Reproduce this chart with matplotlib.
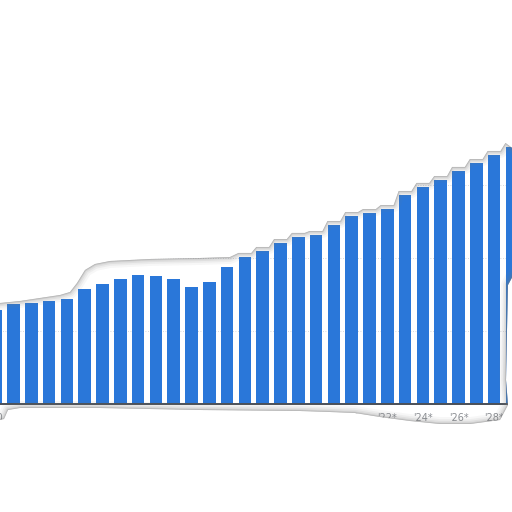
import numpy as np
import matplotlib
matplotlib.use("Agg")
import matplotlib.pyplot as plt
from matplotlib.path import Path
from matplotlib.patches import PathPatch, Polygon

# yearly values, 2000-2029 (later years are forecasts)
years = list(range(2000, 2030))
values = [1288, 1370, 1384, 1411, 1438, 1575, 1644, 1712, 1767, 1753,
          1712, 1603, 1671, 1877, 2014, 2096, 2205, 2288, 2315, 2452,
          2575, 2616, 2671, 2863, 2973, 3068, 3192, 3301, 3411, 3521]
forecast_from = 2022
grid_values = [1000, 2000, 3000, 4000]

BAR_COLOR = "#2a77d9"
BG_COLOR = "#f7fbfe"

# view window (the chart is a torn-out piece of a larger chart)
X0, X1 = 0.2416, 29.006
Y0, Y1 = -1479, 5534

fig = plt.figure(figsize=(5.12, 5.12), dpi=100)
fig.patch.set_facecolor("white")
ax = fig.add_axes([0, 0, 1, 1])
ax.set_facecolor(BG_COLOR)
ax.set_xlim(X0, X1)
ax.set_ylim(Y0, Y1)
ax.set_axis_off()

idx = np.arange(len(years))
ax.bar(idx, values, width=0.70, color=BAR_COLOR, zorder=2)
for g in grid_values:
    ax.axhline(g, color="#c9ccd2", lw=0.6, ls=(0, (1, 2)), zorder=1)
ax.axhline(0, color="#4a4f57", lw=1.4, zorder=3)

for i, yr in enumerate(years):
    if yr % 2 == 0:
        lab = "'%02d" % (yr % 100) + ("*" if yr >= forecast_from else "")
        ax.text(i, -190, lab, ha="center", va="center", fontsize=7,
                color="#8a8d92", zorder=3)


def px(x, y):
    # pixel position (from top-left) -> data coords
    return (X0 + x / 512 * (X1 - X0), Y1 - y / 512 * (Y1 - Y0))


# torn edge outline
top = [px(-10, 304), px(20, 301), px(60, 295), px(70, 292), px(77, 283),
       px(85, 270), px(95, 264), px(110, 261), px(150, 259), px(200, 258),
       px(230, 257)]
margin = 55
for i in range(14, len(values)):
    top.append((i - 0.36, values[i] + margin))
    top.append((i + 0.36, values[i] + margin))
top = [p for p in top if p[0] < px(508, 0)[0]]
right = [px(515, 150), px(515, 272), px(508, 285), px(507, 330),
         px(506, 380), px(508, 405)]
bottom = [px(500, 420), px(470, 424), px(440, 424), px(410, 421),
          px(380, 417), px(355, 413), px(330, 412), px(300, 411),
          px(200, 410), px(100, 408), px(20, 408), px(8, 410),
          px(4, 419), px(-10, 422)]
inner = np.array(top + right + bottom)

outer = np.array([(X0 - 5, Y0 - 5000), (X1 + 5, Y0 - 5000),
                  (X1 + 5, Y1 + 5000), (X0 - 5, Y1 + 5000)])


def area(p):
    x, y = p[:, 0], p[:, 1]
    return 0.5 * np.sum(x * np.roll(y, -1) - np.roll(x, -1) * y)


if np.sign(area(inner)) == np.sign(area(outer)):
    inner = inner[::-1]

verts = np.concatenate([outer, outer[:1], inner, inner[:1]])
codes = ([Path.MOVETO] + [Path.LINETO] * 3 + [Path.CLOSEPOLY]
         + [Path.MOVETO] + [Path.LINETO] * (len(inner) - 1) + [Path.CLOSEPOLY])
mask = PathPatch(Path(verts, codes), facecolor="white", edgecolor="none",
                 zorder=5)
ax.add_patch(mask)

# soft shadow along the inside of the torn edge
clip = Polygon(inner, closed=True, transform=ax.transData, fill=False, lw=0)
ring = np.vstack([inner, inner[:1]])
for lw, a in [(10, 0.06), (7, 0.08), (4.5, 0.11), (2.2, 0.18), (0.8, 0.35)]:
    ln, = ax.plot(ring[:, 0], ring[:, 1], color="#777777", lw=lw, alpha=a,
                  solid_joinstyle="round", zorder=6)
    ln.set_clip_path(clip)

fig.savefig("out.png", dpi=100, facecolor="white")
